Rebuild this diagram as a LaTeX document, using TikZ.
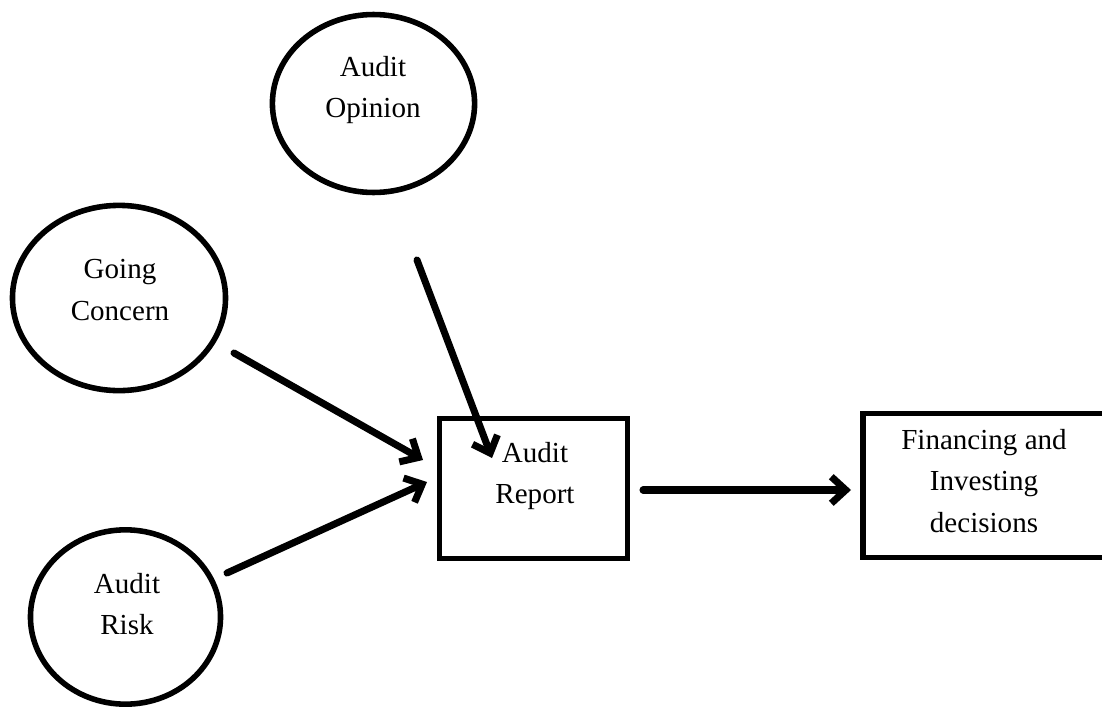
\documentclass[tikz,border=0pt]{standalone}
\usepackage{fontspec}
\setmainfont{Liberation Serif}
\usetikzlibrary{shapes.geometric,% ellipse nodes
arrows.meta}
\tikzset{every node/.style={font=\fontsize{12}{17}\selectfont}}

\begin{document}
\begin{tikzpicture}[x=0.413pt,y=-0.413pt,
    bubble/.style={draw,ellipse,line width=2.3pt,inner sep=0pt},
    block/.style={draw,rectangle,line width=2.3pt,inner sep=0pt},
    lbl/.style={align=center,inner sep=0pt},
    flow/.style={line width=2.9pt,line cap=round,-{Straight Barb[length=6pt,width=11pt]}}]
    \useasboundingbox (0,0) rectangle (1102,709);
    % factors
    \node[bubble,minimum width=83.5pt,minimum height=73.5pt] (opinion) at (373.5,103.5) {};
    \node[bubble,minimum width=88pt,minimum height=76.5pt] (concern) at (119,298) {};
    \node[bubble,minimum width=78.5pt,minimum height=72pt] (risk) at (125.5,617) {};
    \node[lbl] (opinion-txt) at (373,90) {Audit\\Opinion};
    \node[lbl] (concern-txt) at (120,290) {Going\\Concern};
    \node[lbl] (risk-txt) at (127,604) {Audit\\Risk};
    % report and outcome
    \node[block,minimum width=77.6pt,minimum height=57.8pt] (report) at (533.5,488.5) {};
    \node[block,minimum width=100pt,minimum height=59.5pt] (decision) at (984,485.5) {};
    \node[lbl] (report-txt) at (535,476) {Audit\\Report};
    \node[lbl] (decision-txt) at (984,481) {Financing and\\Investing\\decisions};
    % free ends of the arrows
    \coordinate (opinion-out) at (417,260);
    \coordinate (opinion-in) at (492,458);
    \coordinate (concern-out) at (234,353);
    \coordinate (concern-in) at (423,460);
    \coordinate (risk-out) at (227,573);
    \coordinate (risk-in) at (427,482);
    \coordinate (report-out) at (643,490);
    \coordinate (decision-in) at (851,490);
    \draw[flow] (opinion-out) -- (opinion-in);
    \draw[flow] (concern-out) -- (concern-in);
    \draw[flow] (risk-out) -- (risk-in);
    \draw[flow] (report-out) -- (decision-in);
\end{tikzpicture}
\end{document}
